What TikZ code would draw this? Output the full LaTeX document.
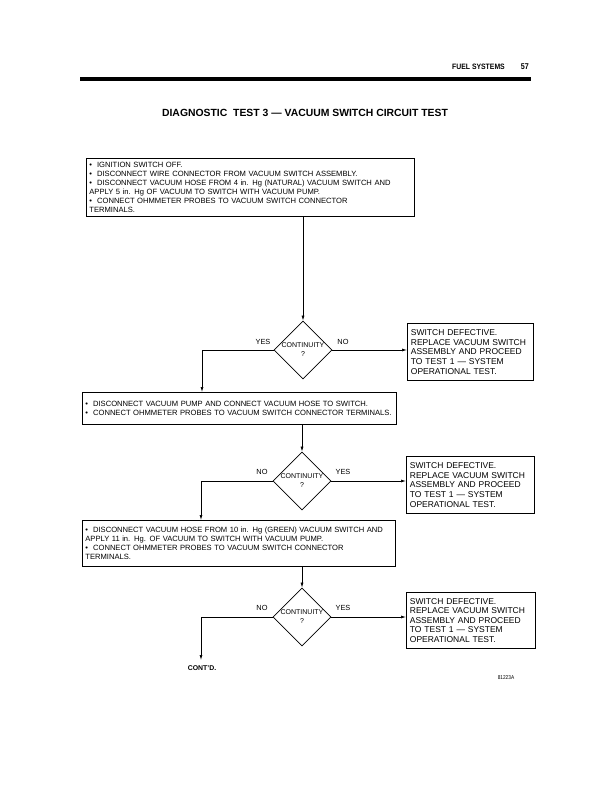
\documentclass[tikz,border=0pt]{standalone}
\usepackage{fontspec}
\usepackage{graphicx}
\setmainfont{Liberation Sans}
\usetikzlibrary{shapes.geometric,arrows.meta}
\begin{document}
\begin{tikzpicture}[x=1pt,y=-1pt,
  boxtxt/.style={font=\fontsize{7.6}{9}\selectfont},
  sidetxt/.style={font=\fontsize{8.5}{9.6}\selectfont},
  stepbox/.style={draw, line width=0.8pt, anchor=north west, align=left, inner xsep=3pt, inner ysep=2pt, boxtxt},
  sidebox/.style={stepbox, sidetxt, inner xsep=3.5pt},
  decision/.style={draw, diamond, line width=0.8pt, minimum width=58pt, minimum height=58pt, inner sep=0pt, align=center, font=\fontsize{7}{9}\selectfont},
  arr/.style={line width=0.7pt, -{Latex[length=5pt,width=3pt]}},
  lbl/.style={font=\fontsize{7.4}{9}\selectfont, inner sep=0pt}
]
\useasboundingbox (0,0) rectangle (612,791);
% header
\node[anchor=east, inner sep=0pt] (hdr) at (505,67) {\bfseries\fontsize{7.8}{9}\selectfont\scalebox{0.88}[1]{FUEL SYSTEMS}};
\node[anchor=east, inner sep=0pt] (pg) at (529,67) {\bfseries\fontsize{8.4}{9}\selectfont\scalebox{0.85}[1]{57}};
\fill (80,77.5) rectangle (531,81.5);
\node[inner sep=0pt] (title) at (305,113) {\bfseries\fontsize{10.4}{12}\selectfont DIAGNOSTIC\ \ TEST 3 --- VACUUM SWITCH CIRCUIT TEST};

% box 1
\node[stepbox, text width=322pt, minimum height=58pt] (b1) at (86,158) {%
\textbullet\ \ IGNITION SWITCH OFF.\\
\textbullet\ \ DISCONNECT WIRE CONNECTOR FROM VACUUM SWITCH ASSEMBLY.\\
\textbullet\ \ DISCONNECT VACUUM HOSE FROM 4 in. Hg (NATURAL) VACUUM SWITCH AND\\
APPLY 5 in. Hg OF VACUUM TO SWITCH WITH VACUUM PUMP.\\
\textbullet\ \ CONNECT OHMMETER PROBES TO VACUUM SWITCH CONNECTOR\\
TERMINALS.};
\node[decision] (d1) at (303,350) {CONTINUITY\\?};
\node[sidebox, text width=119pt, minimum height=57pt] (r1) at (407,323) {%
SWITCH DEFECTIVE.\\REPLACE VACUUM SWITCH\\ASSEMBLY AND PROCEED\\TO TEST 1 --- SYSTEM\\OPERATIONAL TEST.};
\node[lbl] (y1) at (263,342) {YES};
\node[lbl] (n1) at (343,342) {NO};

% box 2
\node[stepbox, text width=308pt, minimum height=32pt] (b2) at (82,392) {%
\textbullet\ \ DISCONNECT VACUUM PUMP AND CONNECT VACUUM HOSE TO SWITCH.\\
\textbullet\ \ CONNECT OHMMETER PROBES TO VACUUM SWITCH CONNECTOR TERMINALS.};
\node[decision] (d2) at (302,481) {CONTINUITY\\?};
\node[sidebox, text width=121pt, minimum height=57pt] (r2) at (406,456) {%
SWITCH DEFECTIVE.\\REPLACE VACUUM SWITCH\\ASSEMBLY AND PROCEED\\TO TEST 1 --- SYSTEM\\OPERATIONAL TEST.};
\node[lbl] (n2) at (262,472) {NO};
\node[lbl] (y2) at (343,472) {YES};

% box 3
\node[stepbox, text width=307pt, minimum height=46pt] (b3) at (82,520) {%
\textbullet\ \ DISCONNECT VACUUM HOSE FROM 10 in. Hg (GREEN) VACUUM SWITCH AND\\
APPLY 11 in. Hg. OF VACUUM TO SWITCH WITH VACUUM PUMP.\\
\textbullet\ \ CONNECT OHMMETER PROBES TO VACUUM SWITCH CONNECTOR\\
TERMINALS.};
\node[decision] (d3) at (302,617) {CONTINUITY\\?};
\node[sidebox, text width=122pt, minimum height=56pt] (r3) at (406,592) {%
SWITCH DEFECTIVE.\\REPLACE VACUUM SWITCH\\ASSEMBLY AND PROCEED\\TO TEST 1 --- SYSTEM\\OPERATIONAL TEST.};
\node[lbl] (n3) at (262,608) {NO};
\node[lbl] (y3) at (343,608) {YES};

\node[inner sep=0pt, font=\bfseries\fontsize{6.9}{8}\selectfont] (cont) at (202,668) {CONT'D.};
\node[inner sep=0pt] (code) at (506,678) {\fontsize{5.6}{6}\selectfont\scalebox{0.85}[1]{81223A}};

% connectors
\draw[arr] (d1.north |- b1.south) -- (d1.north);
\draw[arr] (d1.west) -| (b2.north -| 202,0);
\draw[arr] (d1.east) -- (r1.west |- d1.east);
\draw[arr] (d2.north |- b2.south) -- (d2.north);
\draw[arr] (d2.west) -| (b3.north -| 201,0);
\draw[arr] (d2.east) -- (r2.west |- d2.east);
\draw[arr] (d3.north |- b3.south) -- (d3.north);
\coordinate (c3) at (201,660);
\draw[arr] (d3.west) -| (c3);
\draw[arr] (d3.east) -- (r3.west |- d3.east);
\end{tikzpicture}
\end{document}
